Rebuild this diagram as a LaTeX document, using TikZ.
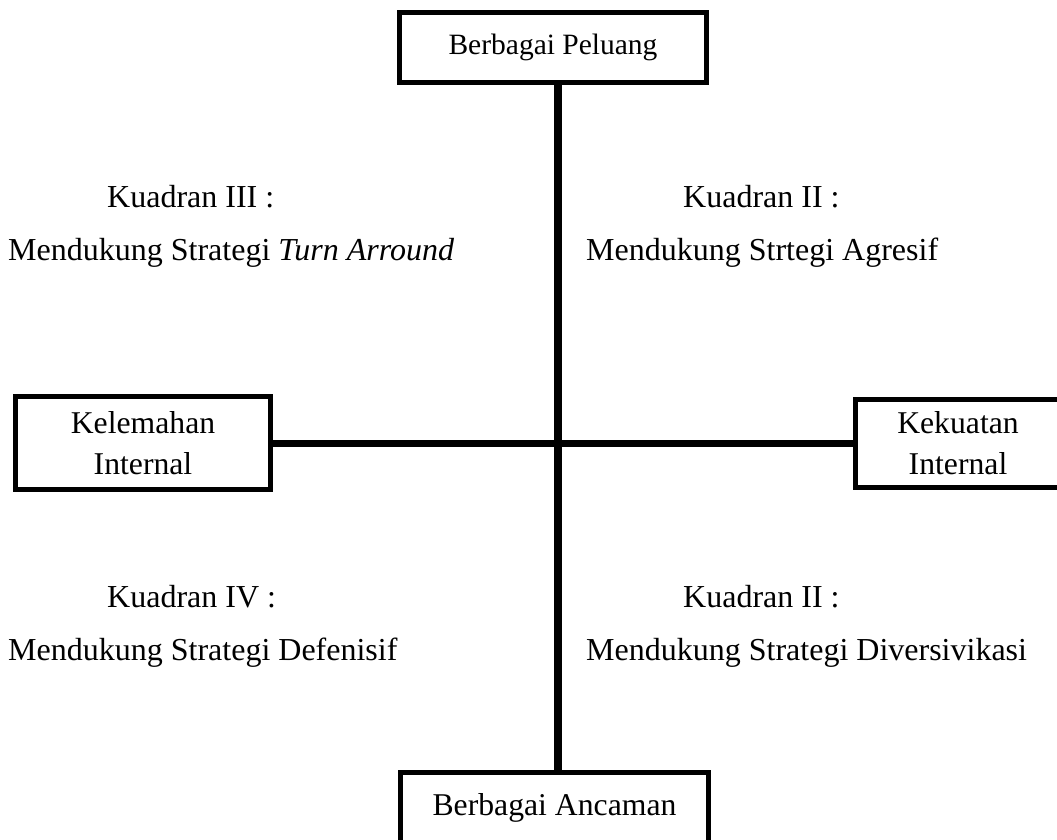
\documentclass[tikz,border=0pt]{standalone}
\usepackage{fontspec}
\setmainfont{Liberation Serif}
\begin{document}
\begin{tikzpicture}[x=1pt,y=-1pt,
  txt/.style={font=\fontsize{31.7}{41}\selectfont},
  box/.style={txt, draw, line width=5pt, fill=white, inner sep=0pt, align=center},
  lbl/.style={font=\fontsize{32}{41}\selectfont, anchor=base west, inner sep=0pt},
  vaxis/.style={line width=8pt},
  haxis/.style={line width=7pt}]
\useasboundingbox (0,0) rectangle (1057,840);
\clip (0,0) rectangle (1057,840);
\coordinate (c) at (558,443);
\node[box, font=\fontsize{29.5}{41}\selectfont, minimum width=307pt, minimum height=70pt] (top) at (553,47.5) {Berbagai Peluang};
\node[box, minimum width=308pt, minimum height=70pt] (bot) at (554.5,807.5) {Berbagai Ancaman};
\node[box, minimum width=255pt, minimum height=93pt] (left) at (143,443) {Kelemahan\\Internal};
\node[box, minimum width=205pt, minimum height=88pt] (right) at (958,443) {Kekuatan\\Internal};
\draw[vaxis] (top.south -| c) -- (bot.north -| c);
\draw[haxis] (left.east |- c) -- (right.west |- c);
\node[lbl] (q3a) at (107,207) {Kuadran III :};
\node[lbl] (q3b) at (8,260) {Mendukung Strategi \textit{Turn Arround}};
\node[lbl] (q2a) at (683,207) {Kuadran II :};
\node[lbl] (q2b) at (586,260) {Mendukung Strtegi Agresif};
\node[lbl] (q4a) at (107,607) {Kuadran IV :};
\node[lbl] (q4b) at (8,660) {Mendukung Strategi Defenisif};
\node[lbl] (q1a) at (683,607) {Kuadran II :};
\node[lbl] (q1b) at (586,660) {Mendukung Strategi Diversivikasi};
\end{tikzpicture}
\end{document}
